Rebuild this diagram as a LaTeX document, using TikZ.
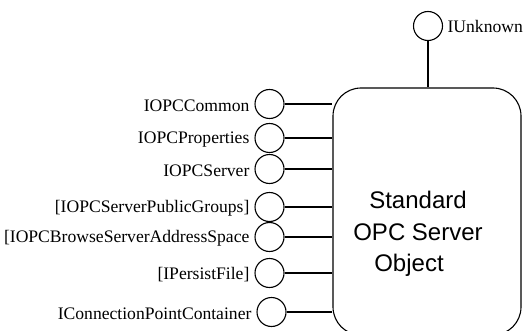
\documentclass[tikz,border=0pt]{standalone}
\usepackage{fontspec}
\setmainfont{Liberation Serif}
\newfontfamily\boxfont{Liberation Sans}
\begin{document}
\begin{tikzpicture}[x=1pt,y=-1pt,line width=1.1pt,
  iface/.style={circle,draw,minimum size=29pt,inner sep=0pt},
  ilabel/.style={font=\fontsize{17.6}{20}\selectfont,inner sep=0pt},
  serverbox/.style={draw,rounded corners=28pt,minimum width=188pt,minimum height=247pt,inner sep=0pt}]
\useasboundingbox (0,0) rectangle (529,331);
\clip (0,0) rectangle (529,331);

% the server object
\node[serverbox] (srv) at (427,211.5) {};
\node[font=\boxfont\fontsize{24}{31.5}\selectfont,align=center,inner sep=0pt]
  (srvtxt) at (418,234) {Standard\\OPC Server\\Object\hspace*{18pt}};

% IUnknown on top
\node[iface] (iu) at (428,26) {};
\node[ilabel,anchor=west] (iul) at ([xshift=4pt]iu.east) {IUnknown};
\draw (iu) -- (iu |- srv.north);

% interfaces on the left side
\foreach \n/\y/\x/\t in {
  c1/104/269.5/IOPCCommon,
  c2/138/269.5/IOPCProperties,
  c3/169/269.5/IOPCServer,
  c4/207/269.5/{[IOPCServerPublicGroups]},
  c5/237/269.5/{[IOPCBrowseServerAddressSpace},
  c6/273/269.5/{[IPersistFile]},
  c7/312/271.5/IConnectionPointContainer}{
  \node[iface] (\n) at (\x,\y) {};
  \node[ilabel,anchor=east] (\n l) at ([xshift=-4.5pt,yshift=-1.5pt]\n.west) {\t};
  \draw (\n) -- (\n -| srv.west);
}
\end{tikzpicture}
\end{document}
